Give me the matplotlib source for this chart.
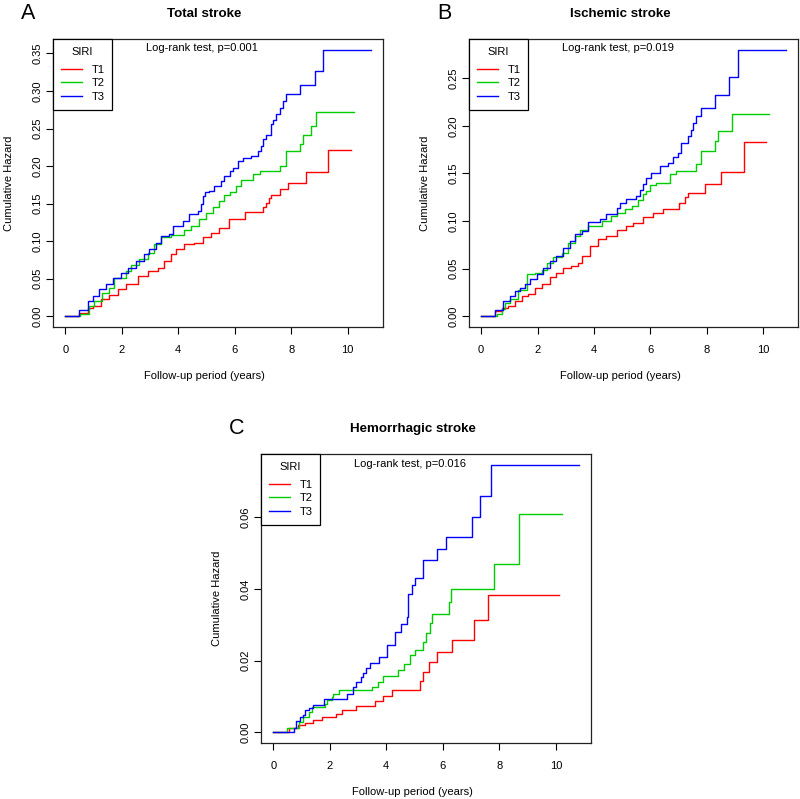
import numpy as np
import matplotlib
matplotlib.use("Agg")
import matplotlib.pyplot as plt

plt.rcParams['font.family'] = ['Liberation Sans', 'DejaVu Sans']
plt.rcParams['font.size'] = 8

# ---- data (cumulative hazard step points) ----
groups = ['T1', 'T2', 'T3']
colors = ['#FF0000', '#00CD00', '#0000FF']

# A: total stroke
A_t1_time = [0, .50, .79, .97, 1.26, 1.56, 1.86, 2.15, 2.56, 2.92, 3.27, 3.51, 3.75, 3.93, 4.22,
             4.57, 4.87, 5.17, 5.46, 5.79, 6.38, 7.00, 7.12, 7.23, 7.29, 7.59, 7.88, 8.51, 9.31, 10.13]
A_t1_haz = [0, .005, .011, .014, .023, .029, .036, .043, .054, .060, .065, .074, .083, .089, .096,
            .098, .105, .111, .118, .129, .139, .145, .151, .158, .162, .169, .178, .192, .222, .222]
A_t2_time = [0, .52, .85, 1.03, 1.32, 1.56, 1.74, 2.15, 2.33, 2.62, 2.92, 3.16, 3.39, 3.75, 4.22,
             4.46, 4.75, 4.99, 5.22, 5.46, 5.64, 5.82, 6.05, 6.23, 6.65, 6.88, 7.59, 7.82, 8.30,
             8.42, 8.71, 8.89, 10.22]
A_t2_haz = [0, .003, .014, .020, .031, .038, .051, .060, .069, .076, .085, .096, .105, .108, .115,
            .120, .129, .138, .145, .154, .162, .166, .174, .182, .189, .193, .200, .220, .229,
            .241, .254, .272, .272]
A_t3_time = [0, .50, .79, .97, 1.21, 1.44, 1.68, 1.97, 2.21, 2.50, 2.80, 2.98, 3.21, 3.39, 3.69,
             3.81, 4.16, 4.40, 4.69, 4.81, 4.87, 4.95, 5.10, 5.28, 5.52, 5.64, 5.82, 5.93, 6.11,
             6.29, 6.58, 6.82, 6.94, 7.00, 7.12, 7.29, 7.35, 7.47, 7.59, 7.70, 7.82, 8.30, 8.83,
             9.12, 10.82]
A_t3_haz = [0, .008, .020, .027, .036, .043, .051, .058, .065, .074, .083, .089, .098, .107, .109,
            .120, .127, .136, .140, .150, .160, .165, .167, .174, .180, .187, .193, .198, .207,
            .211, .213, .220, .227, .236, .242, .256, .262, .269, .278, .287, .296, .308, .326,
            .355, .355]

# B: ischemic stroke
B_t1_time = [0, .49, .73, .96, 1.20, 1.44, 1.67, 1.91, 2.14, 2.44, 2.67, 2.91, 3.20, 3.44, 3.56,
             3.85, 4.14, 4.44, 4.80, 5.15, 5.38, 5.74, 6.09, 6.45, 7.03, 7.21, 7.33, 7.92, 8.50,
             9.30, 10.10]
B_t1_haz = [0, .006, .009, .011, .016, .021, .023, .030, .034, .041, .046, .051, .053, .056, .063,
            .074, .081, .084, .091, .095, .098, .104, .109, .113, .119, .125, .130, .139, .152,
            .183, .183]
B_t2_time = [0, .55, .73, .85, 1.02, 1.31, 1.61, 1.91, 2.14, 2.32, 2.55, 2.85, 3.09, 3.32, 3.50,
             3.79, 4.27, 4.62, 4.80, 5.09, 5.33, 5.56, 5.74, 5.85, 5.97, 6.21, 6.68, 6.91, 7.60,
             7.80, 8.29, 8.39, 8.89, 10.21]
B_t2_haz = [0, .003, .008, .014, .018, .028, .044, .046, .049, .056, .062, .067, .077, .084, .091,
            .095, .100, .105, .109, .113, .116, .122, .128, .132, .138, .140, .149, .153, .160,
            .174, .184, .195, .212, .212]
B_t3_time = [0, .49, .79, 1.02, 1.20, 1.38, 1.55, 1.73, 1.97, 2.20, 2.44, 2.67, 2.91, 3.14, 3.32,
             3.56, 3.79, 4.20, 4.44, 4.80, 4.91, 5.15, 5.50, 5.62, 5.74, 5.85, 6.03, 6.33, 6.62,
             6.80, 6.97, 7.09, 7.33, 7.44, 7.50, 7.62, 7.80, 8.29, 8.80, 9.09, 10.80]
B_t3_haz = [0, .007, .016, .021, .027, .030, .034, .039, .044, .051, .058, .063, .072, .079, .086,
            .090, .099, .102, .107, .114, .119, .123, .126, .133, .139, .145, .151, .158, .161,
            .167, .172, .182, .189, .196, .203, .210, .219, .232, .251, .280, .280]

# C: hemorrhagic stroke
C_t1_time = [0, .55, .86, 1.13, 1.42, 1.72, 2.21, 2.43, 2.92, 3.60, 3.90, 4.19, 5.20, 5.30, 5.50,
             5.81, 6.31, 7.10, 7.60, 10.12]
C_t1_haz = [0, .0013, .0020, .0026, .0035, .0043, .0052, .0063, .0073, .0088, .0102, .0119, .0144,
            .0169, .0196, .0224, .0259, .0313, .0384, .0384]
C_t2_time = [0, .50, .92, 1.07, 1.25, 1.37, 1.84, 1.90, 2.07, 2.13, 2.31, 3.49, 3.72, 3.90, 4.43,
             4.61, 4.84, 5.02, 5.31, 5.41, 5.55, 5.61, 6.23, 6.30, 7.81, 8.70, 10.20]
C_t2_haz = [0, .0012, .0029, .0043, .0057, .0071, .0080, .0090, .0099, .0106, .0117, .0127, .0141,
            .0157, .0173, .0192, .0215, .0231, .0253, .0276, .0304, .0330, .0364, .0399, .0469,
            .0609, .0609]
C_t3_time = [0, .72, .81, .95, 1.07, 1.13, 1.25, 1.42, 1.80, 2.60, 2.82, 2.92, 3.10, 3.19, 3.29,
             3.43, 3.75, 4.02, 4.31, 4.51, 4.72, 4.78, 4.90, 5.02, 5.31, 5.81, 6.11, 7.02, 7.31,
             7.70, 10.81]
C_t3_haz = [0, .0013, .0032, .0043, .0048, .0062, .0069, .0077, .0094, .0108, .0127, .0141, .0153,
            .0166, .0180, .0194, .0211, .0243, .0281, .0301, .0323, .0385, .0411, .0432, .0481,
            .0511, .0545, .0600, .0661, .0747, .0747]

panel_letters = ['A', 'B', 'C']
panel_titles = ['Total stroke', 'Ischemic stroke', 'Hemorrhagic stroke']
pvalues = ['0.001', '0.019', '0.016']
yticks_list = [np.arange(0, 0.351, 0.05), np.arange(0, 0.251, 0.05), np.arange(0, 0.061, 0.02)]
xticks = [0, 2, 4, 6, 8, 10]

panel_data = [
    [(A_t1_time, A_t1_haz), (A_t2_time, A_t2_haz), (A_t3_time, A_t3_haz)],
    [(B_t1_time, B_t1_haz), (B_t2_time, B_t2_haz), (B_t3_time, B_t3_haz)],
    [(C_t1_time, C_t1_haz), (C_t2_time, C_t2_haz), (C_t3_time, C_t3_haz)],
]

# axes rectangles (figure fraction) to mimic the R layout
rects = [
    [0.06625, 0.5907, 0.4125, 0.3605],
    [0.58625, 0.5907, 0.41125, 0.3605],
    [0.32625, 0.0701, 0.4125, 0.3617],
]

fig = plt.figure(figsize=(8, 7.99), dpi=100)

for k in range(3):
    ax = fig.add_axes(rects[k])
    ymax = 0
    xmax = 0
    for (tt, hh), col, g in zip(panel_data[k], colors, groups):
        ax.step(tt, hh, where='post', color=col, lw=1.0, label=g)
        ymax = max(ymax, max(hh))
        xmax = max(xmax, max(tt))
    # R style 4% padding
    ax.set_xlim(-0.04 * xmax, xmax * 1.04)
    ax.set_ylim(-0.04 * ymax, ymax * 1.04)
    ax.set_xticks(xticks)
    ax.set_yticks(yticks_list[k])
    ax.set_yticklabels([f'{v:.2f}' for v in yticks_list[k]], rotation=90, va='center')
    ax.tick_params(direction='out', length=5, width=0.8, labelsize=8, colors='black')
    ax.tick_params(axis='x', pad=8)
    ax.tick_params(axis='y', pad=2.5)
    for sp in ax.spines.values():
        sp.set_linewidth(0.9)
        sp.set_color('#222222')

    ax.set_xlabel('Follow-up period (years)', fontsize=8)
    ax.set_ylabel('Cumulative Hazard', fontsize=8)
    ax.xaxis.set_label_coords(0.459, -0.153)
    ax.yaxis.set_label_coords(-0.118, 0.5)

    ax.text(0.459, 1.087, panel_titles[k], transform=ax.transAxes, ha='center', va='center',
            fontsize=9.6, fontweight='bold')
    ax.text(-0.074, 1.087, panel_letters[k], transform=ax.transAxes, ha='center', va='center',
            fontsize=15.5)
    ax.text(4.85, 0.967, 'Log-rank test, p=' + pvalues[k], transform=ax.get_xaxis_transform(),
            ha='center', va='center', fontsize=8)

    leg = ax.legend(title='SIRI', loc='upper left', bbox_to_anchor=(0, 1), borderaxespad=0,
                    fancybox=False, edgecolor='black', framealpha=1, fontsize=8, title_fontsize=8,
                    handlelength=1.9, handletextpad=0.85, labelspacing=0.33, borderpad=0.7)
    leg._legend_box.sep = 5.6  # extra gap under the legend title, like R's legend()
    leg.get_frame().set_linewidth(0.9)

fig.savefig('out.png', dpi=100)
